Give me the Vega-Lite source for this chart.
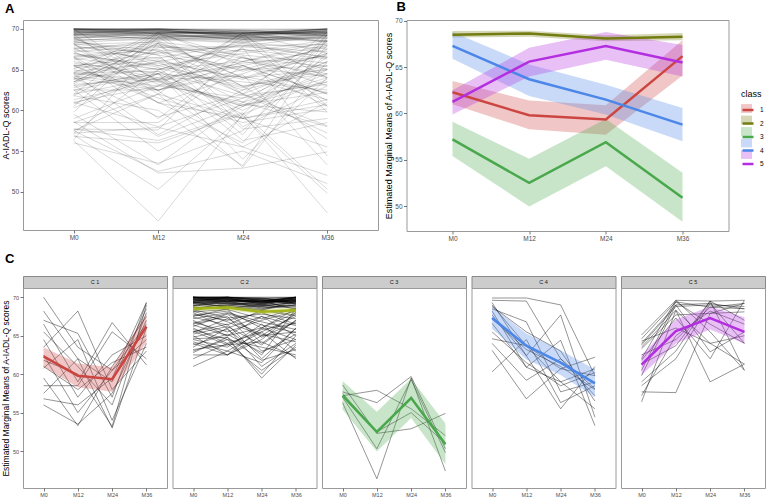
{
  "$schema": "https://vega.github.io/schema/vega-lite/v6.json",
  "autosize": {"type": "pad"},
  "padding": {"left": 0, "top": 0, "right": 0, "bottom": 0},
  "config": {
    "font": "Liberation Sans",
    "view": {"stroke": "#9a9a9a", "strokeWidth": 1},
    "axis": {"grid": false, "domain": false, "tickColor": "#555555", "tickSize": 3, "tickWidth": 0.8, "labelColor": "#4d4d4d", "labelFontSize": 6.5, "labelPadding": 1.5, "titleFontSize": 9, "titleFontWeight": "normal", "titleColor": "#000000"},
    "title": {"fontSize": 13, "fontWeight": "bold", "anchor": "start", "frame": "group", "color": "#000000"}
  },
  "datasets": {
    "traj": [
      {"id":101,"c":1,"M0":70,"M12":63.5,"M24":60.5,"M36":64.5},
      {"id":102,"c":1,"M0":68.2,"M12":62,"M24":59,"M36":68.5},
      {"id":103,"c":1,"M0":67,"M12":65.3,"M24":57,"M36":69.3},
      {"id":104,"c":1,"M0":66.5,"M12":59,"M24":66.7,"M36":61.2},
      {"id":105,"c":1,"M0":65.5,"M12":61,"M24":56,"M36":68},
      {"id":106,"c":1,"M0":64.5,"M12":57,"M24":62.5,"M36":65},
      {"id":107,"c":1,"M0":63.5,"M12":68.2,"M24":58,"M36":63},
      {"id":108,"c":1,"M0":62.5,"M12":55,"M24":60.5,"M36":66.5},
      {"id":109,"c":1,"M0":61.8,"M12":60,"M24":53.2,"M36":69},
      {"id":110,"c":1,"M0":60.8,"M12":64.5,"M24":54,"M36":64},
      {"id":111,"c":1,"M0":59.5,"M12":53.3,"M24":61,"M36":67.5},
      {"id":112,"c":1,"M0":58.5,"M12":58.5,"M24":65.5,"M36":62},
      {"id":113,"c":1,"M0":57.5,"M12":62,"M24":53,"M36":66},
      {"id":114,"c":1,"M0":56.8,"M12":56,"M24":59.5,"M36":69.3},
      {"id":115,"c":1,"M0":56,"M12":53.5,"M24":57.5,"M36":67},
      {"id":116,"c":1,"M0":61,"M12":58,"M24":61.5,"M36":63.5},
      {"id":201,"c":2,"M0":70,"M12":70,"M24":70,"M36":70},
      {"id":202,"c":2,"M0":70,"M12":70,"M24":69.5,"M36":70},
      {"id":203,"c":2,"M0":69.8,"M12":70,"M24":69.6,"M36":69.9},
      {"id":204,"c":2,"M0":69.5,"M12":69.8,"M24":69.2,"M36":69.8},
      {"id":205,"c":2,"M0":70,"M12":69.6,"M24":69.4,"M36":69.5},
      {"id":206,"c":2,"M0":69.7,"M12":69.9,"M24":69.8,"M36":70},
      {"id":207,"c":2,"M0":69.9,"M12":69.5,"M24":69.5,"M36":69.7},
      {"id":208,"c":2,"M0":69.4,"M12":69.7,"M24":69,"M36":69.6},
      {"id":209,"c":2,"M0":70,"M12":70,"M24":69.7,"M36":69.3},
      {"id":210,"c":2,"M0":69.6,"M12":69.8,"M24":69.3,"M36":70},
      {"id":211,"c":2,"M0":69.3,"M12":69.5,"M24":69.6,"M36":69.4},
      {"id":212,"c":2,"M0":70,"M12":69.9,"M24":69.1,"M36":69.8},
      {"id":213,"c":2,"M0":69.8,"M12":69.4,"M24":69.5,"M36":69.9},
      {"id":214,"c":2,"M0":69.5,"M12":70,"M24":69.8,"M36":69.5},
      {"id":215,"c":2,"M0":69.2,"M12":69.6,"M24":69.3,"M36":70},
      {"id":216,"c":2,"M0":70,"M12":69.8,"M24":69.4,"M36":69.7},
      {"id":217,"c":2,"M0":69.7,"M12":69.3,"M24":69.2,"M36":69.9},
      {"id":218,"c":2,"M0":69.9,"M12":70,"M24":69.6,"M36":69.2},
      {"id":219,"c":2,"M0":69.1,"M12":69.4,"M24":69,"M36":69.6},
      {"id":220,"c":2,"M0":70,"M12":69.7,"M24":69.5,"M36":70},
      {"id":221,"c":2,"M0":69.6,"M12":69.9,"M24":69.3,"M36":69.5},
      {"id":222,"c":2,"M0":69.4,"M12":69.2,"M24":69.1,"M36":69.8},
      {"id":223,"c":2,"M0":69.8,"M12":69.6,"M24":69.7,"M36":69.1},
      {"id":224,"c":2,"M0":68.9,"M12":69.3,"M24":68.8,"M36":69.4},
      {"id":225,"c":2,"M0":69.3,"M12":69.1,"M24":68.9,"M36":69.3},
      {"id":226,"c":2,"M0":68.8,"M12":69.5,"M24":68.6,"M36":69},
      {"id":227,"c":2,"M0":69,"M12":68.9,"M24":68.7,"M36":68.8},
      {"id":228,"c":2,"M0":68.6,"M12":69,"M24":68.5,"M36":69.2},
      {"id":229,"c":2,"M0":68.7,"M12":68.6,"M24":68.9,"M36":68.6},
      {"id":230,"c":2,"M0":69.2,"M12":68.8,"M24":68.4,"M36":69},
      {"id":231,"c":2,"M0":69.9,"M12":69.9,"M24":69.9,"M36":69.9},
      {"id":232,"c":2,"M0":69.5,"M12":69.5,"M24":69.5,"M36":69.5},
      {"id":233,"c":2,"M0":70,"M12":69.4,"M24":69.8,"M36":69.6},
      {"id":234,"c":2,"M0":69.3,"M12":69.9,"M24":69.4,"M36":70},
      {"id":235,"c":2,"M0":68.9,"M12":69.7,"M24":69.2,"M36":69.7},
      {"id":236,"c":2,"M0":69.7,"M12":69.1,"M24":68.8,"M36":69.4},
      {"id":237,"c":2,"M0":68.5,"M12":69.2,"M24":69,"M36":68.9},
      {"id":238,"c":2,"M0":69.4,"M12":68.7,"M24":68.3,"M36":69.5},
      {"id":239,"c":2,"M0":68.3,"M12":68.9,"M24":69.5,"M36":68.4},
      {"id":240,"c":2,"M0":70,"M12":70,"M24":69.9,"M36":69.1},
      {"id":241,"c":2,"M0":68,"M12":66,"M24":67.5,"M36":65},
      {"id":242,"c":2,"M0":67.5,"M12":68.5,"M24":64,"M36":67},
      {"id":243,"c":2,"M0":67,"M12":65,"M24":66,"M36":68.5},
      {"id":244,"c":2,"M0":66.5,"M12":67.5,"M24":63,"M36":64.5},
      {"id":245,"c":2,"M0":66,"M12":64,"M24":65.5,"M36":67.5},
      {"id":246,"c":2,"M0":65.5,"M12":66.5,"M24":62,"M36":66},
      {"id":247,"c":2,"M0":65,"M12":62.5,"M24":64.5,"M36":68},
      {"id":248,"c":2,"M0":64.5,"M12":63.5,"M24":66.5,"M36":63},
      {"id":249,"c":2,"M0":64,"M12":62.5,"M24":65,"M36":65.5},
      {"id":250,"c":2,"M0":63.5,"M12":66,"M24":61,"M36":64},
      {"id":251,"c":2,"M0":63,"M12":64.5,"M24":63.5,"M36":62.5},
      {"id":252,"c":2,"M0":62.5,"M12":62.5,"M24":66,"M36":64.5},
      {"id":253,"c":2,"M0":62,"M12":64,"M24":60.5,"M36":63.5},
      {"id":254,"c":2,"M0":61,"M12":63,"M24":65.5,"M36":62},
      {"id":255,"c":2,"M0":67.8,"M12":67,"M24":68,"M36":66.5},
      {"id":256,"c":2,"M0":68.2,"M12":66.8,"M24":65,"M36":67.8},
      {"id":257,"c":2,"M0":67.2,"M12":68,"M24":66.8,"M36":65.8},
      {"id":258,"c":2,"M0":66.8,"M12":65.5,"M24":67,"M36":68.2},
      {"id":259,"c":2,"M0":66.2,"M12":67.8,"M24":64.8,"M36":66.8},
      {"id":260,"c":2,"M0":65.8,"M12":64.5,"M24":60,"M36":65},
      {"id":261,"c":2,"M0":65.2,"M12":66.2,"M24":63.8,"M36":67},
      {"id":262,"c":2,"M0":64.8,"M12":65.8,"M24":62.5,"M36":68.5},
      {"id":263,"c":2,"M0":64.2,"M12":63,"M24":61.5,"M36":66},
      {"id":264,"c":2,"M0":68.4,"M12":67.3,"M24":67.8,"M36":67.2},
      {"id":265,"c":2,"M0":67.6,"M12":68.2,"M24":66,"M36":68},
      {"id":266,"c":2,"M0":66.4,"M12":65,"M24":67.5,"M36":66.3},
      {"id":267,"c":2,"M0":65.4,"M12":67.2,"M24":65.2,"M36":64.2},
      {"id":268,"c":2,"M0":64.6,"M12":64.8,"M24":59.5,"M36":63.8},
      {"id":269,"c":2,"M0":63.8,"M12":65.2,"M24":62.8,"M36":65.2},
      {"id":270,"c":2,"M0":63.2,"M12":63.8,"M24":64.2,"M36":62.2},
      {"id":271,"c":2,"M0":68.1,"M12":68.4,"M24":67.2,"M36":68.6},
      {"id":272,"c":2,"M0":67.4,"M12":66.4,"M24":68.3,"M36":67.6},
      {"id":273,"c":2,"M0":66.6,"M12":67.9,"M24":66.4,"M36":65.4},
      {"id":274,"c":2,"M0":62.8,"M12":64.8,"M24":61.8,"M36":63.2},
      {"id":275,"c":2,"M0":65.6,"M12":63.8,"M24":65.8,"M36":66.6},
      {"id":301,"c":3,"M0":57.2,"M12":57.9,"M24":55.5,"M36":52},
      {"id":302,"c":3,"M0":57.7,"M12":56.3,"M24":59.7,"M36":50.3},
      {"id":303,"c":3,"M0":58.6,"M12":52.3,"M24":52.9,"M36":54.9},
      {"id":304,"c":3,"M0":57,"M12":50.3,"M24":59.3,"M36":49.8},
      {"id":305,"c":3,"M0":56.3,"M12":46.4,"M24":59.5,"M36":47.4},
      {"id":306,"c":3,"M0":57.5,"M12":52.5,"M24":55,"M36":51},
      {"id":401,"c":4,"M0":69.9,"M12":69.9,"M24":69,"M36":59.8},
      {"id":402,"c":4,"M0":69.6,"M12":69.5,"M24":62,"M36":58.1},
      {"id":403,"c":4,"M0":69,"M12":63.7,"M24":60.7,"M36":62.2},
      {"id":404,"c":4,"M0":68.5,"M12":66.8,"M24":57.7,"M36":59},
      {"id":405,"c":4,"M0":67.7,"M12":62.4,"M24":67.7,"M36":54.4},
      {"id":406,"c":4,"M0":66.6,"M12":60.9,"M24":64.4,"M36":53.3},
      {"id":407,"c":4,"M0":64.6,"M12":63.7,"M24":59,"M36":60.7},
      {"id":408,"c":4,"M0":64,"M12":59.2,"M24":62,"M36":57.2},
      {"id":409,"c":4,"M0":63.1,"M12":56.8,"M24":60.7,"M36":59.8},
      {"id":410,"c":4,"M0":60.3,"M12":64.5,"M24":56.3,"M36":58.5},
      {"id":411,"c":4,"M0":69.3,"M12":62.4,"M24":55.5,"M36":61},
      {"id":412,"c":4,"M0":68.2,"M12":60.9,"M24":59,"M36":55.5},
      {"id":413,"c":4,"M0":67.2,"M12":63.2,"M24":61,"M36":58},
      {"id":414,"c":4,"M0":65.5,"M12":61.5,"M24":58.5,"M36":60.2},
      {"id":415,"c":4,"M0":68.8,"M12":65.5,"M24":63,"M36":56.5},
      {"id":501,"c":5,"M0":65.1,"M12":69.6,"M24":69.5,"M36":69.6},
      {"id":502,"c":5,"M0":64.6,"M12":69.4,"M24":68.7,"M36":69.2},
      {"id":503,"c":5,"M0":64,"M12":69,"M24":69.2,"M36":68.5},
      {"id":504,"c":5,"M0":63.5,"M12":68.3,"M24":64,"M36":61.3},
      {"id":505,"c":5,"M0":63.3,"M12":67.7,"M24":67.9,"M36":68.1},
      {"id":506,"c":5,"M0":62,"M12":69.6,"M24":65.5,"M36":60.5},
      {"id":507,"c":5,"M0":61.3,"M12":63.7,"M24":69.5,"M36":67},
      {"id":508,"c":5,"M0":59.8,"M12":69,"M24":62.9,"M36":65.5},
      {"id":509,"c":5,"M0":58.5,"M12":62,"M24":69.2,"M36":64},
      {"id":510,"c":5,"M0":57.7,"M12":57.6,"M24":67.9,"M36":69.2},
      {"id":511,"c":5,"M0":56.4,"M12":68.3,"M24":59,"M36":61.3},
      {"id":512,"c":5,"M0":62.5,"M12":64.5,"M24":68.7,"M36":68.5},
      {"id":513,"c":5,"M0":60.5,"M12":69.4,"M24":66.5,"M36":64},
      {"id":514,"c":5,"M0":64.3,"M12":66,"M24":64,"M36":65},
      {"id":515,"c":5,"M0":59,"M12":63,"M24":69.5,"M36":60.5},
      {"id":516,"c":5,"M0":63.8,"M12":68.8,"M24":69,"M36":68.8},
      {"id":517,"c":5,"M0":57.2,"M12":65,"M24":68.2,"M36":66.5},
      {"id":518,"c":5,"M0":61.8,"M12":67.3,"M24":62,"M36":69.6}
    ],
    "means": [
      {"class":1,"t":"M0","m":62.3,"lo":61.0,"hi":63.5},
      {"class":1,"t":"M12","m":59.8,"lo":58.3,"hi":61.4},
      {"class":1,"t":"M24","m":59.35,"lo":57.7,"hi":60.9},
      {"class":1,"t":"M36","m":66.2,"lo":64.1,"hi":67.9},
      {"class":2,"t":"M0","m":68.5,"lo":68.2,"hi":68.9},
      {"class":2,"t":"M12","m":68.65,"lo":68.3,"hi":68.95},
      {"class":2,"t":"M24","m":68.1,"lo":67.8,"hi":68.45},
      {"class":2,"t":"M36","m":68.3,"lo":67.9,"hi":68.7},
      {"class":3,"t":"M0","m":57.2,"lo":55.4,"hi":59.1},
      {"class":3,"t":"M12","m":52.5,"lo":49.95,"hi":55.1},
      {"class":3,"t":"M24","m":56.9,"lo":54.3,"hi":59.4},
      {"class":3,"t":"M36","m":50.9,"lo":48.3,"hi":53.6},
      {"class":4,"t":"M0","m":67.3,"lo":65.9,"hi":68.8},
      {"class":4,"t":"M12","m":63.7,"lo":61.9,"hi":65.3},
      {"class":4,"t":"M24","m":61.5,"lo":59.9,"hi":63.1},
      {"class":4,"t":"M36","m":58.8,"lo":57.0,"hi":60.6},
      {"class":5,"t":"M0","m":61.25,"lo":59.9,"hi":62.5},
      {"class":5,"t":"M12","m":65.6,"lo":64.0,"hi":67.1},
      {"class":5,"t":"M24","m":67.3,"lo":65.8,"hi":68.8},
      {"class":5,"t":"M36","m":65.5,"lo":64.0,"hi":67.4}
    ]
  },
  "spacing": 9,
  "vconcat": [
    {
      "spacing": 4.5,
      "hconcat": [
        {
          "width": 355, "height": 210,
          "title": {"text": "A", "dx": -18, "offset": 4},
          "data": {"name": "traj"},
          "transform": [{"fold": ["M0", "M12", "M24", "M36"], "as": ["t", "v"]}],
          "mark": {"type": "line", "color": "#000000", "opacity": 0.22, "strokeWidth": 0.7},
          "encoding": {
            "x": {"field": "t", "type": "ordinal", "scale": {"domain": ["M0", "M12", "M24", "M36"], "type": "point", "padding": 0.6}, "axis": {"title": null, "labelAngle": 0}},
            "y": {"field": "v", "type": "quantitative", "scale": {"domain": [45.3, 71.1], "nice": false, "zero": false}, "axis": {"title": "A-IADL-Q scores", "values": [50, 55, 60, 65, 70], "titlePadding": 1}},
            "detail": {"field": "id", "type": "nominal"}
          }
        },
        {
          "width": 322, "height": 211,
          "title": {"text": "B", "dx": -10, "offset": 4},
          "data": {"name": "means"},
          "encoding": {
            "x": {"field": "t", "type": "ordinal", "scale": {"domain": ["M0", "M12", "M24", "M36"], "type": "point", "padding": 0.6}, "axis": {"title": null, "labelAngle": 0}}
          },
          "layer": [
            {
              "mark": {"type": "area", "opacity": 0.3},
              "encoding": {
                "y": {"field": "lo", "type": "quantitative", "scale": {"domain": [47.3, 70.1], "nice": false, "zero": false}, "axis": {"title": "Estimated Marginal Means of A-IADL-Q scores", "values": [50, 55, 60, 65, 70], "titlePadding": 1}},
                "y2": {"field": "hi"},
                "fill": {"field": "class", "type": "nominal", "scale": {"domain": [1, 2, 3, 4, 5], "range": ["#cc4641", "#737c10", "#4aa84c", "#4b86e8", "#b32ee0"]},
                  "legend": {"orient": "none", "legendX": 718, "legendY": 70, "title": "class", "titleFontSize": 9, "titleFontWeight": "normal", "titleOpacity": 0, "labelOpacity": 0, "labelFontSize": 6.5, "symbolType": "M-1,-0.8H1V0.8H-1Z", "symbolSize": 121, "symbolOpacity": 0.3, "symbolStrokeWidth": 0, "rowPadding": 1.5, "labelOffset": 5, "titlePadding": 4, "padding": 0}}
              }
            },
            {
              "mark": {"type": "line", "strokeWidth": 2.5},
              "encoding": {
                "y": {"field": "m", "type": "quantitative", "scale": {"domain": [47.3, 70.1], "nice": false, "zero": false}, "axis": {"title": "Estimated Marginal Means of A-IADL-Q scores", "values": [50, 55, 60, 65, 70], "titlePadding": 1}},
                "stroke": {"field": "class", "type": "nominal", "scale": {"range": ["#cc4641", "#737c10", "#4aa84c", "#4b86e8", "#b32ee0"]},
                  "legend": {"orient": "none", "legendX": 718, "legendY": 70, "title": "class", "titleFontSize": 9, "titleFontWeight": "normal", "titleColor": "#000000", "labelFontSize": 6.5, "labelColor": "#000000", "symbolType": "stroke", "symbolSize": 121, "symbolStrokeWidth": 2.5, "rowPadding": 1.5, "labelOffset": 5, "titlePadding": 4, "padding": 0}}
              }
            }
          ]
        }
      ]
    },
    {
      "spacing": 3.5,
      "hconcat": [
        {
          "bounds": "flush", "spacing": 0,
          "vconcat": [
            {"width": 144, "height": 12, "title": {"text": "C", "dx": -18, "offset": 10}, "view": {"fill": "#cccccc", "stroke": "#888888"}, "data": {"values": [{"label": "C 1"}]}, "mark": {"type": "text", "fontSize": 5.5, "color": "#1a1a1a", "baseline": "middle"}, "encoding": {"text": {"field": "label", "type": "nominal"}}},
            {
              "width": 144, "height": 200,
              "encoding": {"x": {"field": "t", "type": "ordinal", "scale": {"domain": ["M0", "M12", "M24", "M36"], "type": "point", "padding": 0.6}, "axis": {"title": null, "labelAngle": 0, "labelFontSize": 5.5, "labelPadding": 1}}},
              "layer": [
                {"data": {"name": "traj"}, "transform": [{"filter": "datum.c == 1"}, {"fold": ["M0", "M12", "M24", "M36"], "as": ["t", "v"]}], "mark": {"type": "line", "color": "#000000", "opacity": 0.7, "strokeWidth": 0.6},
                  "encoding": {"y": {"field": "v", "type": "quantitative", "scale": {"domain": [45.2, 71.2], "nice": false, "zero": false}, "axis": {"title": "Estimated Marginal Means of A-IADL-Q scores", "values": [50, 55, 60, 65, 70], "labelFontSize": 5.5, "titleFontSize": 8.5, "titlePadding": 1.5}}, "detail": {"field": "id", "type": "nominal"}}},
                {"data": {"name": "means"}, "transform": [{"filter": "datum.class == 1"}], "mark": {"type": "area", "color": "#cc4641", "opacity": 0.3},
                  "encoding": {"y": {"field": "lo", "type": "quantitative", "scale": {"domain": [45.2, 71.2], "nice": false, "zero": false}, "axis": {"title": "Estimated Marginal Means of A-IADL-Q scores", "values": [50, 55, 60, 65, 70], "labelFontSize": 5.5, "titleFontSize": 8.5, "titlePadding": 1.5}}, "y2": {"field": "hi"}}},
                {"data": {"name": "means"}, "transform": [{"filter": "datum.class == 1"}], "mark": {"type": "line", "color": "#cc4641", "strokeWidth": 2.5},
                  "encoding": {"y": {"field": "m", "type": "quantitative", "scale": {"domain": [45.2, 71.2], "nice": false, "zero": false}, "axis": {"title": "Estimated Marginal Means of A-IADL-Q scores", "values": [50, 55, 60, 65, 70], "labelFontSize": 5.5, "titleFontSize": 8.5, "titlePadding": 1.5}}}}
              ]
            }
          ]
        },
        {
          "bounds": "flush", "spacing": 0,
          "vconcat": [
            {"width": 144, "height": 12, "view": {"fill": "#cccccc", "stroke": "#888888"}, "data": {"values": [{"label": "C 2"}]}, "mark": {"type": "text", "fontSize": 5.5, "color": "#1a1a1a", "baseline": "middle"}, "encoding": {"text": {"field": "label", "type": "nominal"}}},
            {
              "width": 144, "height": 200,
              "encoding": {"x": {"field": "t", "type": "ordinal", "scale": {"domain": ["M0", "M12", "M24", "M36"], "type": "point", "padding": 0.6}, "axis": {"title": null, "labelAngle": 0, "labelFontSize": 5.5, "labelPadding": 1}}},
              "layer": [
                {"data": {"name": "traj"}, "transform": [{"filter": "datum.c == 2"}, {"fold": ["M0", "M12", "M24", "M36"], "as": ["t", "v"]}], "mark": {"type": "line", "color": "#000000", "opacity": 0.7, "strokeWidth": 0.6},
                  "encoding": {"y": {"field": "v", "type": "quantitative", "scale": {"domain": [45.2, 71.2], "nice": false, "zero": false}, "axis": null}, "detail": {"field": "id", "type": "nominal"}}},
                {"data": {"name": "means"}, "transform": [{"filter": "datum.class == 2"}], "mark": {"type": "area", "color": "#a3b51a", "opacity": 0.3},
                  "encoding": {"y": {"field": "lo", "type": "quantitative", "scale": {"domain": [45.2, 71.2], "nice": false, "zero": false}, "axis": null}, "y2": {"field": "hi"}}},
                {"data": {"name": "means"}, "transform": [{"filter": "datum.class == 2"}], "mark": {"type": "line", "color": "#a3b51a", "strokeWidth": 2.5},
                  "encoding": {"y": {"field": "m", "type": "quantitative", "scale": {"domain": [45.2, 71.2], "nice": false, "zero": false}, "axis": null}}}
              ]
            }
          ]
        },
        {
          "bounds": "flush", "spacing": 0,
          "vconcat": [
            {"width": 144, "height": 12, "view": {"fill": "#cccccc", "stroke": "#888888"}, "data": {"values": [{"label": "C 3"}]}, "mark": {"type": "text", "fontSize": 5.5, "color": "#1a1a1a", "baseline": "middle"}, "encoding": {"text": {"field": "label", "type": "nominal"}}},
            {
              "width": 144, "height": 200,
              "encoding": {"x": {"field": "t", "type": "ordinal", "scale": {"domain": ["M0", "M12", "M24", "M36"], "type": "point", "padding": 0.6}, "axis": {"title": null, "labelAngle": 0, "labelFontSize": 5.5, "labelPadding": 1}}},
              "layer": [
                {"data": {"name": "traj"}, "transform": [{"filter": "datum.c == 3"}, {"fold": ["M0", "M12", "M24", "M36"], "as": ["t", "v"]}], "mark": {"type": "line", "color": "#000000", "opacity": 0.7, "strokeWidth": 0.6},
                  "encoding": {"y": {"field": "v", "type": "quantitative", "scale": {"domain": [45.2, 71.2], "nice": false, "zero": false}, "axis": null}, "detail": {"field": "id", "type": "nominal"}}},
                {"data": {"name": "means"}, "transform": [{"filter": "datum.class == 3"}], "mark": {"type": "area", "color": "#4aa84c", "opacity": 0.3},
                  "encoding": {"y": {"field": "lo", "type": "quantitative", "scale": {"domain": [45.2, 71.2], "nice": false, "zero": false}, "axis": null}, "y2": {"field": "hi"}}},
                {"data": {"name": "means"}, "transform": [{"filter": "datum.class == 3"}], "mark": {"type": "line", "color": "#4aa84c", "strokeWidth": 2.5},
                  "encoding": {"y": {"field": "m", "type": "quantitative", "scale": {"domain": [45.2, 71.2], "nice": false, "zero": false}, "axis": null}}}
              ]
            }
          ]
        },
        {
          "bounds": "flush", "spacing": 0,
          "vconcat": [
            {"width": 144, "height": 12, "view": {"fill": "#cccccc", "stroke": "#888888"}, "data": {"values": [{"label": "C 4"}]}, "mark": {"type": "text", "fontSize": 5.5, "color": "#1a1a1a", "baseline": "middle"}, "encoding": {"text": {"field": "label", "type": "nominal"}}},
            {
              "width": 144, "height": 200,
              "encoding": {"x": {"field": "t", "type": "ordinal", "scale": {"domain": ["M0", "M12", "M24", "M36"], "type": "point", "padding": 0.6}, "axis": {"title": null, "labelAngle": 0, "labelFontSize": 5.5, "labelPadding": 1}}},
              "layer": [
                {"data": {"name": "traj"}, "transform": [{"filter": "datum.c == 4"}, {"fold": ["M0", "M12", "M24", "M36"], "as": ["t", "v"]}], "mark": {"type": "line", "color": "#000000", "opacity": 0.7, "strokeWidth": 0.6},
                  "encoding": {"y": {"field": "v", "type": "quantitative", "scale": {"domain": [45.2, 71.2], "nice": false, "zero": false}, "axis": null}, "detail": {"field": "id", "type": "nominal"}}},
                {"data": {"name": "means"}, "transform": [{"filter": "datum.class == 4"}], "mark": {"type": "area", "color": "#4b86e8", "opacity": 0.3},
                  "encoding": {"y": {"field": "lo", "type": "quantitative", "scale": {"domain": [45.2, 71.2], "nice": false, "zero": false}, "axis": null}, "y2": {"field": "hi"}}},
                {"data": {"name": "means"}, "transform": [{"filter": "datum.class == 4"}], "mark": {"type": "line", "color": "#4b86e8", "strokeWidth": 2.5},
                  "encoding": {"y": {"field": "m", "type": "quantitative", "scale": {"domain": [45.2, 71.2], "nice": false, "zero": false}, "axis": null}}}
              ]
            }
          ]
        },
        {
          "bounds": "flush", "spacing": 0,
          "vconcat": [
            {"width": 144, "height": 12, "view": {"fill": "#cccccc", "stroke": "#888888"}, "data": {"values": [{"label": "C 5"}]}, "mark": {"type": "text", "fontSize": 5.5, "color": "#1a1a1a", "baseline": "middle"}, "encoding": {"text": {"field": "label", "type": "nominal"}}},
            {
              "width": 144, "height": 200,
              "encoding": {"x": {"field": "t", "type": "ordinal", "scale": {"domain": ["M0", "M12", "M24", "M36"], "type": "point", "padding": 0.6}, "axis": {"title": null, "labelAngle": 0, "labelFontSize": 5.5, "labelPadding": 1}}},
              "layer": [
                {"data": {"name": "traj"}, "transform": [{"filter": "datum.c == 5"}, {"fold": ["M0", "M12", "M24", "M36"], "as": ["t", "v"]}], "mark": {"type": "line", "color": "#000000", "opacity": 0.7, "strokeWidth": 0.6},
                  "encoding": {"y": {"field": "v", "type": "quantitative", "scale": {"domain": [45.2, 71.2], "nice": false, "zero": false}, "axis": null}, "detail": {"field": "id", "type": "nominal"}}},
                {"data": {"name": "means"}, "transform": [{"filter": "datum.class == 5"}], "mark": {"type": "area", "color": "#b32ee0", "opacity": 0.3},
                  "encoding": {"y": {"field": "lo", "type": "quantitative", "scale": {"domain": [45.2, 71.2], "nice": false, "zero": false}, "axis": null}, "y2": {"field": "hi"}}},
                {"data": {"name": "means"}, "transform": [{"filter": "datum.class == 5"}], "mark": {"type": "line", "color": "#b32ee0", "strokeWidth": 2.5},
                  "encoding": {"y": {"field": "m", "type": "quantitative", "scale": {"domain": [45.2, 71.2], "nice": false, "zero": false}, "axis": null}}}
              ]
            }
          ]
        }
      ]
    }
  ]
}
